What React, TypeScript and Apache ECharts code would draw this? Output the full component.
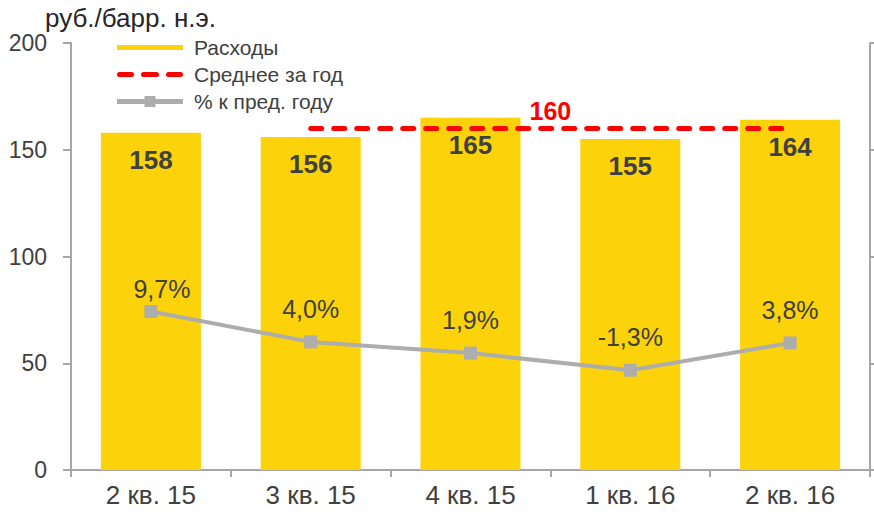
import React, { useEffect, useRef } from "react";
import * as echarts from "echarts";

const categories = ["2 кв. 15", "3 кв. 15", "4 кв. 15", "1 кв. 16", "2 кв. 16"];
const expenses = [158, 156, 165, 155, 164];
const yearAverage = [null, 160, 160, 160, 160];
const averageLabel = 160;
const pctChange = [9.7, 4.0, 1.9, -1.3, 3.8];

const TEXT = "#404040";
const AXIS = "#A6A6A6";
const FONT = "'Liberation Sans', Arial, sans-serif";

const ICON_BAR = "path://M0 0H66V5H0Z";
const ICON_DASH =
  "path://M2.5 0H14.5A2.5 2.5 0 0 1 14.5 5H2.5A2.5 2.5 0 0 1 2.5 0Z" +
  "M26.5 0H39.5A2.5 2.5 0 0 1 39.5 5H26.5A2.5 2.5 0 0 1 26.5 0Z" +
  "M51.5 0H63.5A2.5 2.5 0 0 1 63.5 5H51.5A2.5 2.5 0 0 1 51.5 0Z";
const ICON_LINE = "path://M0 3H27.5V0H38.5V3H66V8H38.5V11H27.5V8H0Z";

export default function App() {
  const ref = useRef<HTMLDivElement>(null);
  useEffect(() => {
    if (!ref.current) return;
    const chart = echarts.init(ref.current, undefined, { renderer: "svg" });
    chart.setOption({
      animation: false,
      textStyle: { fontFamily: FONT },
      title: {
        text: "руб./барр. н.э.",
        left: 40,
        top: 0,
        textStyle: { fontSize: 26, fontWeight: "normal", color: "#262626", fontFamily: FONT },
      },
      legend: {
        orient: "vertical",
        left: 117,
        top: 37,
        padding: 0,
        itemWidth: 66,
        itemHeight: 14,
        itemGap: 6,
        textStyle: { fontSize: 21, color: TEXT, fontFamily: FONT, padding: [0, 0, 0, 6] },
        data: [
          { name: "Расходы", icon: ICON_BAR },
          { name: "Среднее за год", icon: ICON_DASH },
          { name: "% к пред. году", icon: ICON_LINE },
        ],
      },
      grid: { left: 71, right: 4, top: 43, bottom: 47 },
      xAxis: {
        type: "category",
        data: categories,
        axisLine: { lineStyle: { color: AXIS, width: 2 } },
        axisTick: { show: true, length: 7, lineStyle: { color: AXIS, width: 2 } },
        axisLabel: { fontSize: 26, color: TEXT, margin: 12, fontFamily: FONT },
      },
      yAxis: [
        {
          type: "value",
          min: 0,
          max: 200,
          interval: 50,
          splitLine: { show: false },
          axisLine: { show: true, lineStyle: { color: AXIS, width: 2 } },
          axisTick: { show: true, length: 8, lineStyle: { color: AXIS, width: 2 } },
          axisLabel: { fontSize: 23, color: TEXT, margin: 24, fontFamily: FONT },
        },
        {
          type: "value",
          position: "right",
          min: -20,
          max: 60,
          interval: 20,
          splitLine: { show: false },
          axisLine: { show: true, lineStyle: { color: AXIS, width: 2 } },
          axisTick: { show: true, length: 8, lineStyle: { color: AXIS, width: 2 } },
          axisLabel: { show: false },
        },
      ],
      series: [
        {
          name: "Расходы",
          type: "bar",
          data: expenses,
          barWidth: 100,
          itemStyle: { color: "#FCD20A" },
          label: {
            show: true,
            position: "insideTop",
            distance: 14,
            fontSize: 26,
            fontWeight: "bold",
            color: TEXT,
            fontFamily: FONT,
          },
          z: 1,
        },
        {
          name: "Среднее за год",
          type: "line",
          data: yearAverage,
          symbol: "none",
          lineStyle: { color: "#FF0000", width: 5, type: [11, 12], cap: "round" },
          itemStyle: { color: "#FF0000" },
          z: 3,
          markLine: {
            silent: true,
            symbol: "none",
            lineStyle: { width: 1, color: "rgba(0,0,0,0)", type: "solid" },
            label: {
              show: true,
              position: "middle",
              formatter: String(averageLabel),
              fontSize: 25,
              fontWeight: "bold",
              color: "#FF0000",
              fontFamily: FONT,
              distance: 5,
            },
            data: [[{ coord: [1, averageLabel] }, { coord: [4, averageLabel] }]],
          },
        },
        {
          name: "% к пред. году",
          type: "line",
          yAxisIndex: 1,
          data: pctChange.map((v, i) => (i === 0 ? { value: v, label: { offset: [11, 11] } } : v)),
          symbol: "rect",
          symbolSize: 13,
          lineStyle: { color: "#ADADAD", width: 4 },
          itemStyle: { color: "#ADADAD" },
          label: {
            show: true,
            position: "top",
            distance: 14,
            fontSize: 25,
            color: TEXT,
            fontFamily: FONT,
            formatter: (p: any) => p.value.toFixed(1).replace(".", ",") + "%",
          },
          z: 4,
        },
      ],
    });
    return () => chart.dispose();
  }, []);
  return <div ref={ref} style={{ width: 874, height: 517, position: "absolute", left: 0, top: 0 }} />;
}
